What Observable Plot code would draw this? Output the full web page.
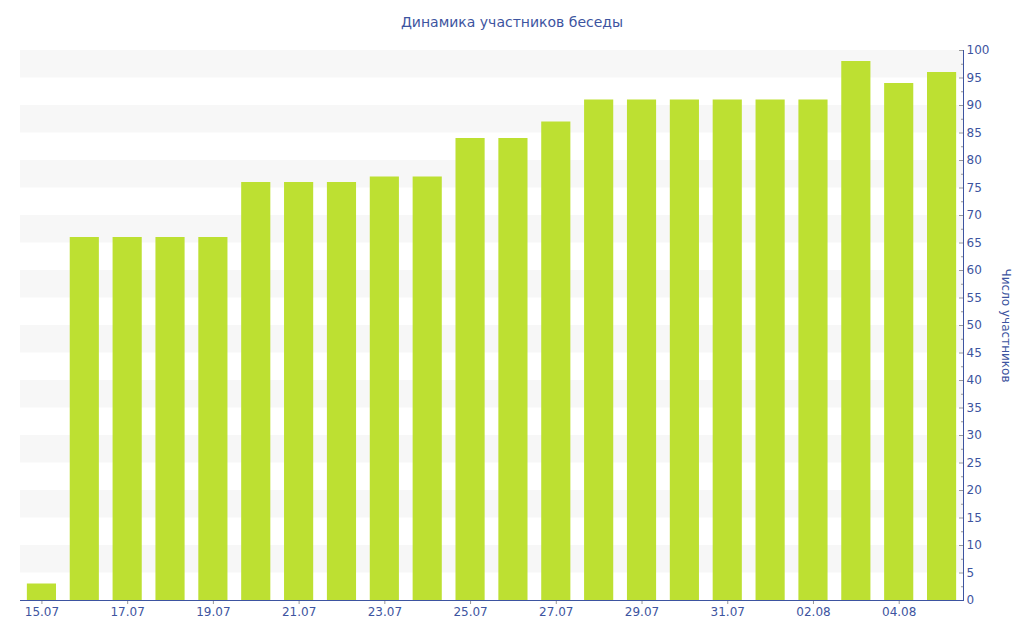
<!DOCTYPE html>
<html>
<head>
<meta charset="utf-8">
<script src="https://cdn.jsdelivr.net/npm/d3@7"></script>
<script src="https://cdn.jsdelivr.net/npm/@observablehq/plot@0.6"></script>
<style>
  body { margin: 0; background: #fff; font-family: "DejaVu Sans", Verdana, sans-serif; }
  #title { height: 40px; line-height: 44px; text-align: center; font-size: 14px; color: #3d54a0; }
</style>
</head>
<body>
<div id="title">Динамика участников беседы</div>
<div id="chart"></div>
<script>
const dates = ["15.07","16.07","17.07","18.07","19.07","20.07","21.07","22.07","23.07","24.07","25.07","26.07","27.07","28.07","29.07","30.07","31.07","01.08","02.08","03.08","04.08","05.08"];
const participants = [3,66,66,66,66,76,76,76,77,77,84,84,87,91,91,91,91,91,91,98,94,96];
const bandStarts = [5,15,25,35,45,55,65,75,85,95];
const majorTicks = d3.range(0, 101, 5);
const minorTicks = d3.range(2.5, 100, 5);
const xLabels = dates.filter((d, i) => i % 2 === 0);
const yLabel = "Число участников";

const data = dates.map((d, i) => ({date: d, value: participants[i]}));
const axisColor = "#3d54a0";

const chart = Plot.plot({
  width: 1024,
  height: 600,
  marginTop: 10,
  marginBottom: 40,
  marginLeft: 20,
  marginRight: 61,
  style: {fontFamily: "DejaVu Sans, Verdana, sans-serif", fontSize: "12px", color: axisColor},
  x: {domain: dates, paddingInner: 0.32, paddingOuter: 0.16, round: false},
  y: {domain: [0, 100]},
  marks: [
    Plot.rect(bandStarts, {y1: d => d, y2: d => d + 5, fill: "#f7f7f7"}),
    Plot.barY(data, {x: "date", y: "value", fill: "#bde032"}),
    Plot.axisX({ticks: xLabels, tickSize: 4, tickPadding: 3, stroke: "#999", fill: axisColor, label: null}),
    Plot.axisY({anchor: "right", ticks: majorTicks, tickSize: -5, tickPadding: 8, stroke: "#999", fill: axisColor, label: null}),
    Plot.axisY({anchor: "right", ticks: minorTicks, tickSize: -3, text: null, stroke: "#999", label: null}),
    Plot.ruleY([0], {stroke: axisColor}),
    Plot.frame({anchor: "right", stroke: axisColor}),
    Plot.text([yLabel], {frameAnchor: "right", textAnchor: "middle", rotate: 90, dx: 42, fill: axisColor, fontSize: 12})
  ]
});
document.getElementById("chart").appendChild(chart);
</script>
</body>
</html>
